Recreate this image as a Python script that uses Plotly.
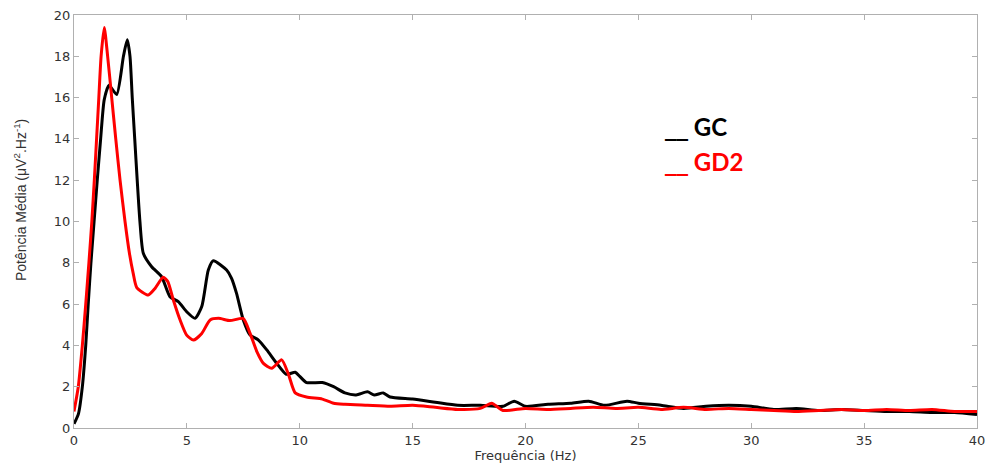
import plotly.graph_objects as go

# GC (black)
gc_f = [0, 0.2, 0.37, 0.52, 0.63, 0.75, 0.89, 1.03, 1.18, 1.34, 1.55, 1.89, 2.19, 2.36, 2.48, 2.58, 2.69, 2.8, 2.92, 3.07, 3.44, 3.88, 4.25, 4.62, 4.99, 5.36, 5.66, 5.95, 6.17, 6.76, 6.98, 7.2, 7.5, 7.8, 8.17, 8.54, 8.98, 9.4, 9.8, 10.0, 10.3, 11.0, 11.5, 12.0, 12.5, 13.0, 13.3, 13.7, 14.0, 15.0, 16.0, 17.0, 18.0, 19.0, 19.5, 20.0, 21.0, 22.0, 22.8, 23.5, 24.5, 25.0, 26.0, 27.0, 28.0, 29.0, 30.0, 31.0, 32.0, 33.0, 34.0, 35.0, 36.0, 37.0, 38.0, 39.0, 40.0]
gc_v = [0.2, 0.7, 2.0, 4.0, 6.0, 8.0, 10.0, 12.0, 14.0, 15.9, 16.6, 16.15, 18.0, 18.8, 18.0, 16.0, 14.0, 12.0, 10.0, 8.46, 7.81, 7.33, 6.36, 6.12, 5.63, 5.31, 5.88, 7.65, 8.1, 7.65, 7.25, 6.52, 5.23, 4.5, 4.26, 3.78, 3.13, 2.6, 2.7, 2.5, 2.2, 2.2, 2.0, 1.7, 1.6, 1.75, 1.6, 1.7, 1.5, 1.4, 1.25, 1.1, 1.1, 1.05, 1.3, 1.05, 1.15, 1.2, 1.3, 1.1, 1.3, 1.2, 1.1, 0.95, 1.05, 1.1, 1.05, 0.9, 0.95, 0.85, 0.9, 0.85, 0.8, 0.8, 0.75, 0.75, 0.65]

# GD2 (red)
gd2_f = [0, 0.19, 0.37, 0.52, 0.66, 0.79, 0.9, 1.0, 1.1, 1.2, 1.34, 1.49, 1.67, 1.85, 2.04, 2.26, 2.45, 2.62, 2.78, 3.29, 3.59, 3.95, 4.15, 4.4, 4.7, 4.99, 5.29, 5.66, 6.03, 6.4, 6.91, 7.5, 7.8, 8.1, 8.39, 8.76, 9.2, 9.5, 9.8, 10.3, 11.0, 11.5, 12.0, 13.0, 14.0, 15.0, 16.0, 17.0, 18.0, 18.5, 19.0, 20.0, 21.0, 22.0, 23.0, 24.0, 25.0, 26.0, 27.0, 28.0, 29.0, 30.0, 31.0, 32.0, 33.0, 34.0, 35.0, 36.0, 37.0, 38.0, 39.0, 40.0]
gd2_v = [0.8, 2.0, 4.0, 6.0, 8.0, 10.0, 12.0, 14.0, 16.0, 18.0, 19.4, 18.0, 16.0, 14.0, 12.0, 10.0, 8.5, 7.5, 6.8, 6.44, 6.76, 7.3, 7.1, 6.2, 5.23, 4.5, 4.26, 4.58, 5.23, 5.31, 5.2, 5.3, 4.58, 3.7, 3.13, 2.89, 3.3, 2.6, 1.7, 1.5, 1.4, 1.2, 1.15, 1.1, 1.05, 1.1, 1.0, 0.9, 0.95, 1.2, 0.85, 0.95, 0.9, 0.95, 1.0, 0.95, 1.0, 0.9, 1.0, 0.9, 0.95, 0.9, 0.85, 0.8, 0.85, 0.9, 0.85, 0.9, 0.85, 0.9, 0.8, 0.8]

x_ticks = list(range(0, 41, 5))
y_ticks = list(range(0, 21, 2))

fig = go.Figure()
fig.add_trace(go.Scatter(x=gc_f, y=gc_v, mode="lines", line=dict(color="black", width=3, shape="spline", smoothing=0.6), name="GC"))
fig.add_trace(go.Scatter(x=gd2_f, y=gd2_v, mode="lines", line=dict(color="red", width=3, shape="spline", smoothing=0.6), name="GD2"))

axis_common = dict(showline=True, linecolor="#b0b0b0", linewidth=1, mirror="ticks", automargin=False,
                   ticks="inside", ticklen=5, tickcolor="#b0b0b0", showgrid=False, zeroline=False,
                   tickfont=dict(family="DejaVu Sans, Liberation Sans", size=13, color="#333"))

fig.update_xaxes(range=[0, 40], tickvals=x_ticks, **axis_common,
                 title=dict(text="Frequência (Hz)", font=dict(family="DejaVu Sans, Liberation Sans", size=13, color="#333"), standoff=0))
fig.update_yaxes(range=[0, 20], tickvals=y_ticks, **axis_common)

fig.add_annotation(x=-0.0598, y=0.552, xref="paper", yref="paper", xanchor="center", yanchor="middle", showarrow=False,
                   textangle=-90, text="Potência Média (μV<sup>2</sup>.Hz<sup>-1</sup>)",
                   font=dict(family="Liberation Sans Narrow, Liberation Sans, Arial", size=14, color="#333"))

fig.add_annotation(x=0.651, y=0.734, xref="paper", yref="paper", xanchor="left", yanchor="middle", showarrow=False,
                   text="<b><span style='font-family:Open Sans;font-size:28px'>__</span> GC</b>", font=dict(family="Lato, Open Sans", size=24, color="black"))
fig.add_annotation(x=0.651, y=0.649, xref="paper", yref="paper", xanchor="left", yanchor="middle", showarrow=False,
                   text="<b><span style='font-family:Open Sans;font-size:28px'>__</span> GD2</b>", font=dict(family="Lato, Open Sans", size=24, color="red"))

fig.update_layout(width=991, height=469, margin=dict(l=74, r=14, t=15, b=41),
                  plot_bgcolor="white", paper_bgcolor="white", showlegend=False)

fig.write_html("out.html", config={"displayModeBar": False},
               post_script="document.body.style.margin='0';document.body.style.padding='0';")
